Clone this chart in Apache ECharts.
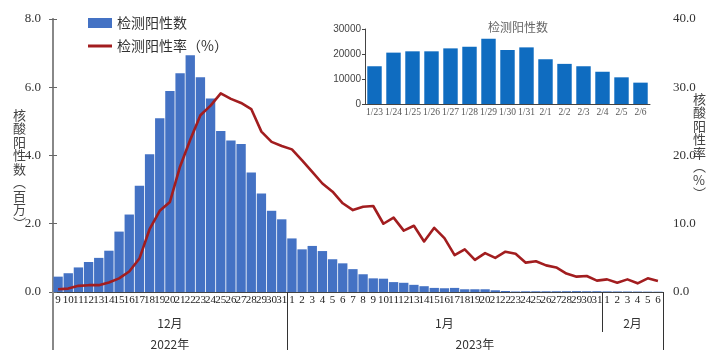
<!DOCTYPE html>
<html>
<head>
<meta charset="utf-8">
<script src="https://cdn.jsdelivr.net/npm/echarts@6/dist/echarts.min.js"></script>
<style>
html,body{margin:0;padding:0;background:#fff;}
#chart{width:720px;height:350px;}
</style>
</head>
<body>
<div id="chart"></div>
<script>
// ---- data ----
const decDays = ['9','10','11','12','13','14','15','16','17','18','19','20','21','22','23','24','25','26','27','28','29','30','31'];
const janDays = ['1','2','3','4','5','6','7','8','9','10','11','12','13','14','15','16','17','18','19','20','21','22','23','24','25','26','27','28','29','30','31'];
const febDays = ['1','2','3','4','5','6'];
const monthNames = ['12月','1月','2月'];
const yearNames = ['2022年','2023年'];
const leftAxisTitle = ['核','酸','阳','性','数','︵','百','万','︶'];
const rightAxisTitle = ['核','酸','阳','性','率','︵','%','︶'];

// 检测阳性数（百万）
const positiveMillions = [
  0.45,0.55,0.72,0.88,1.00,1.21,1.77,2.27,3.11,4.04,5.09,5.89,6.41,6.94,6.29,5.67,4.72,4.44,4.34,3.50,2.89,2.38,2.13,
  1.57,1.25,1.35,1.20,0.96,0.84,0.67,0.52,0.40,0.39,0.29,0.27,0.21,0.17,0.12,0.11,0.12,0.08,0.08,0.08,0.05,0.03,
  0.015,0.021,0.021,0.021,0.022,0.023,0.026,0.022,0.023,
  0.018,0.016,0.015,0.013,0.011,0.009
];
// 检测阳性率（%）
const positiveRate = [
  0.4,0.5,0.9,1.0,1.0,1.4,2.0,3.0,4.9,9.2,11.9,13.2,18.4,22.3,25.9,27.3,29.1,28.3,27.7,26.8,23.5,22.0,21.4,
  20.9,19.3,17.6,15.9,14.7,13.0,12.0,12.5,12.6,10.0,10.9,9.0,9.7,7.4,9.4,7.9,5.4,6.25,4.7,5.7,5.0,5.9,5.6,4.3,4.5,3.9,3.6,2.7,2.25,2.35,1.67,
  1.85,1.37,1.85,1.27,2.0,1.6
];
// inset
const insetDates = ['1/23','1/24','1/25','1/26','1/27','1/28','1/29','1/30','1/31','2/1','2/2','2/3','2/4','2/5','2/6'];
const insetValues = [15100,20550,21070,21070,22250,22900,26080,21600,22650,17900,16050,15100,12900,10670,8540];

const leftTicks = [0,2,4,6,8];
const rightTicks = [0,10,20,30,40];
const insetTicks = [0,10000,20000,30000];

// ---- derived ----
const dayLabels = decDays.concat(janDays, febDays);
const total = dayLabels.length;
const monthCounts = [decDays.length, janDays.length, febDays.length];
const monthStarts = [0, monthCounts[0], monthCounts[0] + monthCounts[1]];
const monthCenters = monthStarts.map((s, i) => s + monthCounts[i] / 2);
const yearBounds = [[0, decDays.length], [decDays.length, total]];
const yearCenters = yearBounds.map(b => (b[0] + b[1]) / 2);

const serif = '"Liberation Serif","DejaVu Serif",serif';
const cjk = '"Noto Sans CJK SC","Noto Sans",sans-serif';

const chart = echarts.init(document.getElementById('chart'), null, {renderer: 'canvas'});
chart.setOption({
  animation: false,
  backgroundColor: '#fff',
  title: {
    text: '检测阳性数',
    left: 513, top: 16, textAlign: 'center',
    textStyle: {fontSize: 12, fontWeight: 'normal', color: '#666', fontFamily: cjk}
  },
  legend: [
    {
      data: ['检测阳性数'],
      left: 83, top: 11,
      itemWidth: 24, itemHeight: 10,
      icon: 'rect',
      textStyle: {fontSize: 14, color: '#333', fontFamily: cjk}
    },
    {
      data: ['检测阳性率（%）'],
      left: 83, top: 34,
      itemWidth: 24, itemHeight: 3,
      icon: 'rect',
      textStyle: {fontSize: 14, color: '#333', fontFamily: cjk}
    }
  ],
  graphic: [
    {
      type: 'text', left: 13, top: 108,
      style: {text: leftAxisTitle.join('\n'), fontSize: 13, lineHeight: 13.5, fill: '#444', fontFamily: cjk, align: 'center'}
    },
    {
      type: 'text', left: 693, top: 92,
      style: {text: rightAxisTitle.join('\n'), fontSize: 13, lineHeight: 13.5, fill: '#444', fontFamily: cjk, align: 'center'}
    }
  ],
  grid: [
    {left: 53, right: 57, top: 19, bottom: 58, containLabel: false},
    {left: 365, right: 70, top: 29, bottom: 246, containLabel: false}
  ],
  xAxis: [
    {
      type: 'category', gridIndex: 0, data: dayLabels, boundaryGap: true,
      axisLine: {lineStyle: {color: '#444', width: 1}},
      axisTick: {interval: 0, length: 15, lineStyle: {color: '#333'}},
      axisLabel: {interval: 0, margin: 3, fontSize: 11, color: '#222', fontFamily: serif}
    },
    {
      type: 'value', gridIndex: 0, min: 0, max: total, position: 'bottom',
      axisLine: {show: false}, splitLine: {show: false},
      axisTick: {show: true, customValues: [monthStarts[1], total], length: 58, lineStyle: {color: '#333', width: 1}},
      axisLabel: {
        customValues: monthCenters, margin: 25, fontSize: 12, color: '#333', fontFamily: cjk,
        formatter: v => monthNames[monthCenters.indexOf(v)] || ''
      }
    },
    {
      type: 'value', gridIndex: 0, min: 0, max: total, position: 'bottom',
      axisLine: {show: false}, splitLine: {show: false},
      axisTick: {show: true, customValues: [monthStarts[2]], length: 40, lineStyle: {color: '#333', width: 1}},
      axisLabel: {
        customValues: yearCenters, margin: 46, fontSize: 12, color: '#333', fontFamily: cjk,
        formatter: v => yearNames[yearCenters.indexOf(v)] || ''
      }
    },
    {
      type: 'value', gridIndex: 0, min: 0, max: total, position: 'bottom',
      axisLine: {show: false}, splitLine: {show: false},
      axisTick: {show: true, customValues: [0], length: 58, lineStyle: {color: '#888', width: 2}},
      axisLabel: {show: false}
    },
    {
      type: 'category', gridIndex: 1, data: insetDates, boundaryGap: true,
      axisLine: {lineStyle: {color: '#444'}},
      axisTick: {interval: 0, length: 3, lineStyle: {color: '#444'}},
      axisLabel: {interval: 0, margin: 3, fontSize: 9.5, color: '#555', fontFamily: serif}
    }
  ],
  yAxis: [
    {
      type: 'value', gridIndex: 0, min: leftTicks[0], max: leftTicks[leftTicks.length - 1], interval: leftTicks[1] - leftTicks[0],
      axisLine: {show: true, lineStyle: {color: '#888', width: 2}},
      axisTick: {show: true, length: 4, lineStyle: {color: '#666'}},
      axisLabel: {fontSize: 13, color: '#333', fontFamily: serif, margin: 12, formatter: v => v.toFixed(1)},
      splitLine: {show: false}
    },
    {
      type: 'value', gridIndex: 0, min: rightTicks[0], max: rightTicks[rightTicks.length - 1], interval: rightTicks[1] - rightTicks[0],
      position: 'right',
      axisLine: {show: true, lineStyle: {color: '#888', width: 1.5}},
      axisTick: {show: true, length: 4, lineStyle: {color: '#666'}},
      axisLabel: {fontSize: 13, color: '#333', fontFamily: serif, margin: 10, formatter: v => v.toFixed(1)},
      splitLine: {show: false}
    },
    {
      type: 'value', gridIndex: 1, min: insetTicks[0], max: insetTicks[insetTicks.length - 1], interval: insetTicks[1] - insetTicks[0],
      axisLine: {show: true, lineStyle: {color: '#444'}},
      axisTick: {show: true, length: 3, lineStyle: {color: '#444'}},
      axisLabel: {fontSize: 10, color: '#444', fontFamily: '"Liberation Sans",Arial,sans-serif', margin: 4, formatter: v => String(v)},
      splitLine: {show: false}
    }
  ],
  series: [
    {
      name: '检测阳性数', type: 'bar', xAxisIndex: 0, yAxisIndex: 0,
      data: positiveMillions, barCategoryGap: '8%',
      itemStyle: {color: '#4472c4'}
    },
    {
      name: '检测阳性率（%）', type: 'line', xAxisIndex: 0, yAxisIndex: 1,
      data: positiveRate, symbol: 'none', smooth: false,
      lineStyle: {color: '#a21d1f', width: 2.6, join: 'round'},
      itemStyle: {color: '#a21d1f'}
    },
    {
      name: '检测阳性数（近期）', type: 'bar', xAxisIndex: 4, yAxisIndex: 2,
      data: insetValues, barCategoryGap: '24%',
      itemStyle: {color: '#0f6cc0'}
    }
  ]
});
</script>
</body>
</html>
